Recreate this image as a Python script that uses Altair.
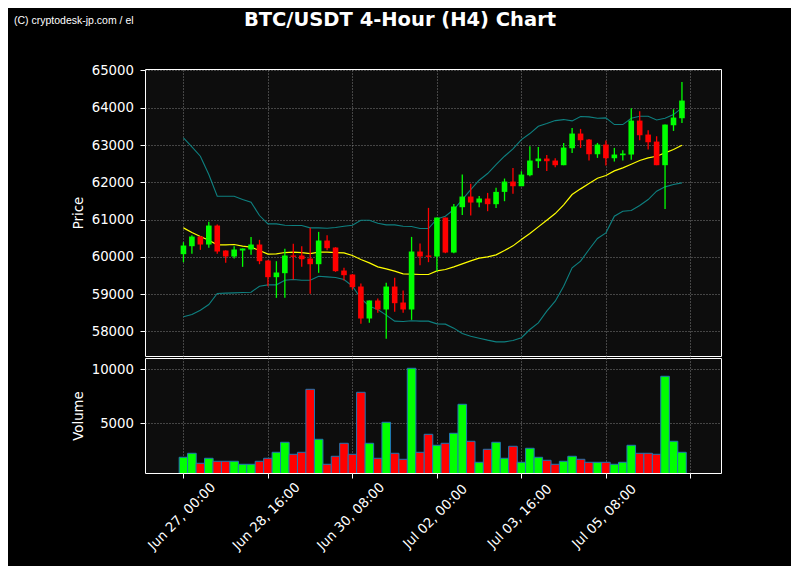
import json
import altair as alt
import pandas as pd

title_text = "BTC/USDT 4-Hour (H4) Chart"
watermark_text = "(C) cryptodesk-jp.com / el"
start_time = "2024-06-27 00:00"

opens = [60072, 60286, 60545, 60331, 60840, 60170, 60009, 60170, 60197, 60331,
         59902, 59455, 59562, 60036, 60036, 59955, 59803, 60438, 60250, 59633,
         59526, 59204, 58346, 58829, 58588, 59204, 58775, 58588, 60143, 60036,
         60009, 61055, 60116, 61332, 61618, 61457, 61565, 61413, 61743, 62020,
         61895, 62190, 62566, 62637, 62584, 62459, 62914, 63308, 63147, 62753,
         63013, 62646, 62727, 62745, 63656, 63281, 63093, 62459, 63531, 63719]
highs = [60393, 60580, 60560, 60939, 60867, 60180, 60286, 60224, 60536, 60456,
         59910, 59884, 60215, 60349, 60286, 60778, 60670, 60581, 60260, 59705,
         59540, 59285, 58829, 58883, 59303, 59437, 59097, 60536, 60358, 61314,
         61055, 61055, 61421, 62208, 61958, 61636, 61716, 61851, 62101, 62387,
         62298, 62968, 62950, 62736, 62646, 63057, 63460, 63433, 63160, 63057,
         63120, 62923, 62861, 63987, 63907, 63397, 63236, 63549, 63960, 64694]
lows = [59857, 60080, 60188, 60241, 60080, 59839, 59955, 59732, 60054, 59803,
        59213, 58900, 58900, 59392, 59732, 59008, 59571, 60179, 59598, 59365,
        59124, 58203, 58230, 58498, 57801, 58525, 58498, 58310, 59777, 59857,
        59616, 60098, 60100, 61126, 61109, 61332, 61225, 61314, 61493, 61690,
        61895, 62163, 62387, 62306, 62405, 62459, 62789, 62923, 62584, 62655,
        62450, 62557, 62584, 62602, 63129, 62879, 62459, 61287, 63379, 63594]
closes = [60304, 60545, 60331, 60840, 60143, 60009, 60197, 60224, 60331, 59884,
          59455, 59580, 60036, 60000, 59937, 59803, 60438, 60232, 59616, 59508,
          59186, 58346, 58829, 58588, 59204, 58757, 58588, 60143, 60009, 60000,
          61055, 60116, 61350, 61618, 61457, 61565, 61413, 61743, 62020, 61895,
          62208, 62584, 62637, 62566, 62459, 62932, 63308, 63129, 62753, 63013,
          62646, 62745, 62771, 63656, 63263, 63075, 62459, 63549, 63737, 64193]
volumes = [1853, 2223, 1297, 1760, 1483, 1483, 1483, 1205, 1205, 1483,
           1760, 2315, 3242, 2130, 2315, 8148, 3519, 1205, 1946, 3149,
           2130, 7871, 3149, 1760, 5093, 2223, 1668, 10093, 2315, 3982,
           2964, 3149, 4075, 6760, 3334, 1390, 2593, 3242, 1760, 2871,
           1390, 2686, 1853, 1575, 1205, 1483, 1946, 1668, 1390, 1390,
           1390, 1205, 1390, 2964, 2223, 2223, 2130, 9352, 3334, 2315]
sma = [60778, 60653, 60545, 60447, 60322, 60322, 60331, 60286, 60259, 60170,
       60072, 60080, 60116, 60125, 60116, 60089, 60125, 60125, 60116, 60107,
       60036, 59928, 59839, 59732, 59678, 59616, 59544, 59535, 59526, 59526,
       59624, 59660, 59732, 59812, 59893, 59964, 60000, 60054, 60170, 60295,
       60465, 60626, 60805, 60983, 61162, 61395, 61672, 61824, 61967, 62110,
       62181, 62306, 62387, 62485, 62584, 62655, 62700, 62789, 62879, 62995]
upper = [63192, 62950, 62700, 62208, 61627, 61627, 61627, 61538, 61466, 61109,
         60885, 60885, 60849, 60840, 60840, 60778, 60778, 60769, 60787, 60822,
         60849, 60983, 60983, 60903, 60858, 60858, 60822, 60814, 60760, 60760,
         61019, 61091, 61269, 61538, 61806, 62056, 62235, 62476, 62700, 62897,
         63147, 63308, 63504, 63576, 63656, 63683, 63648, 63764, 63755, 63719,
         63728, 63549, 63549, 63719, 63773, 63773, 63674, 63719, 63817, 63996]
lower = [58391, 58453, 58570, 58722, 59017, 59026, 59034, 59043, 59052, 59213,
         59249, 59249, 59374, 59392, 59374, 59374, 59481, 59464, 59445, 59392,
         59213, 58883, 58677, 58588, 58436, 58275, 58266, 58284, 58275, 58275,
         58203, 58194, 58087, 57944, 57872, 57818, 57765, 57720, 57720, 57756,
         57830, 58051, 58230, 58543, 58811, 59213, 59705, 59884, 60197, 60492,
         60644, 61091, 61225, 61243, 61377, 61538, 61761, 61878, 61940, 61985]

tick_times = ["2024-06-27 00:00", "2024-06-28 16:00", "2024-06-30 08:00",
              "2024-07-02 00:00", "2024-07-03 16:00", "2024-07-05 08:00",
              "2024-07-07 00:00"]
tick_labels = ["Jun 27, 00:00", "Jun 28, 16:00", "Jun 30, 08:00",
               "Jul 02, 00:00", "Jul 03, 16:00", "Jul 05, 08:00", ""]
price_ticks = [58000, 59000, 60000, 61000, 62000, 63000, 64000, 65000]
volume_ticks = [5000, 10000]


def to_ms(ts):
    return int(ts.value // 10**6)


start = pd.Timestamp(start_time, tz="UTC")
times = pd.date_range(start, periods=len(opens), freq="4h")
df = pd.DataFrame({
    "t": [to_ms(t) for t in times],
    "open": opens, "high": highs, "low": lows, "close": closes,
    "volume": volumes, "sma": sma, "upper": upper, "lower": lower,
})

x_domain = [to_ms(start + pd.Timedelta(hours=-15.84)),
            to_ms(start + pd.Timedelta(hours=252.12))]
tick_ms = [to_ms(pd.Timestamp(s, tz="UTC")) for s in tick_times]
label_expr = f"{json.dumps(tick_labels)}[indexof({json.dumps(tick_ms)}, toNumber(datum.value))]"

GREEN = "#00ff00"
RED = "#ff0000"
TEAL = "#0e8080"
W = 576

x_scale = alt.Scale(type="utc", domain=x_domain)
x_top = alt.X("t:T", scale=x_scale,
              axis=alt.Axis(values=tick_ms, labels=False, ticks=False, orient="top",
                            domain=False, grid=True, title=None))
x_bot = alt.X("t:T", scale=x_scale,
              axis=alt.Axis(values=tick_ms, labelExpr=label_expr, labelAngle=-45,
                            labelAlign="center", labelBaseline="middle",
                            labelPadding=38, labelOffset=-2, labelOverlap=False,
                            labelFlush=False, title=None, grid=True, ticks=True,
                            domain=False))

price_scale = alt.Scale(domain=[57340, 65040], zero=False, nice=False)
price_axis = alt.Axis(values=price_ticks, format="d", title="Price", grid=True)
vol_scale = alt.Scale(domain=[398, 11046], zero=False, nice=False)
vol_axis = alt.Axis(values=volume_ticks, format="d", title="Volume", grid=True)

up_color = alt.condition("datum.close >= datum.open", alt.value(GREEN), alt.value(RED))

base = alt.Chart(df)
upper_line = base.mark_line(color=TEAL, strokeWidth=1.1).encode(
    x=x_top, y=alt.Y("upper:Q", scale=price_scale, axis=price_axis))
lower_line = base.mark_line(color=TEAL, strokeWidth=1.1).encode(
    x=x_top, y=alt.Y("lower:Q", scale=price_scale, axis=price_axis))
sma_line = base.mark_line(color="#ffff00", strokeWidth=1.2).encode(
    x=x_top, y=alt.Y("sma:Q", scale=price_scale, axis=price_axis))
wicks = base.mark_rule(strokeWidth=1.3).encode(
    x=x_top, y=alt.Y("low:Q", scale=price_scale, axis=price_axis), y2="high:Q",
    color=up_color)
bodies = base.mark_bar(size=5.6).encode(
    x=x_top, y=alt.Y("open:Q", scale=price_scale, axis=price_axis), y2="close:Q",
    color=up_color)

title_mark = alt.Chart(pd.DataFrame({"text": [title_text]})).mark_text(
    font="DejaVu Sans", fontSize=19.5, fontWeight="bold", color="white",
    align="center", baseline="alphabetic").encode(
    x=alt.value(255), y=alt.value(-43), text="text:N")
wm_mark = alt.Chart(pd.DataFrame({"text": [watermark_text]})).mark_text(
    font="Liberation Sans Narrow, Arial Narrow, Liberation Sans", fontSize=10.5,
    color="white", align="left", baseline="middle").encode(
    x=alt.value(-131), y=alt.value(-48), text="text:N")

top = alt.layer(upper_line, lower_line, sma_line, wicks, bodies,
                title_mark, wm_mark).properties(width=W, height=287)

vol_bars = base.mark_bar(size=8.6, stroke="#1f77b4", strokeWidth=1, clip=True).encode(
    x=x_bot, y=alt.Y("volume:Q", scale=vol_scale, axis=vol_axis), color=up_color)
bottom = vol_bars.properties(width=W, height=115)

chart = alt.vconcat(top, bottom, spacing=0).properties(
    background="#000000",
    padding={"left": 5, "top": 1, "right": 69, "bottom": 13},
).configure_view(
    stroke="white", strokeWidth=1, fill="#0d0d0d"
).configure_axis(
    labelColor="white", titleColor="white", tickColor="white",
    labelFont="DejaVu Sans", titleFont="DejaVu Sans",
    labelFontSize=13.3, titleFontSize=13.3, titleFontWeight="normal",
    gridColor="#8a8a8a", gridDash=[1, 2], gridWidth=1, gridOpacity=0.9,
    domain=False, tickSize=5, labelPadding=6.5, titlePadding=6,
)

chart.save("out.html", embed_options={"renderer": "svg", "actions": False})
